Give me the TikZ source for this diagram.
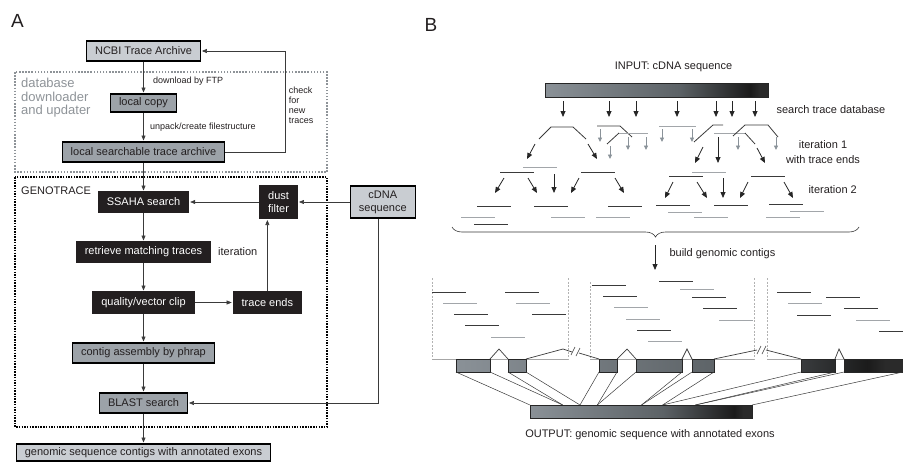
\documentclass[tikz,border=0pt]{standalone}
\usepackage{fontspec}
\setmainfont{Liberation Sans}
\usepackage{tikz}
\usetikzlibrary{positioning}
\usetikzlibrary{arrows.meta, decorations.pathreplacing}

\definecolor{boxlight}{HTML}{C9CDD2}
\definecolor{boxmid}{HTML}{9CA2A8}
\definecolor{boxdark}{HTML}{231F20}
\definecolor{ink}{HTML}{231F20}
\definecolor{framegray}{HTML}{8E9398}
\definecolor{trdark}{HTML}{3A3A3A}
\definecolor{trgray}{HTML}{A2A6AA}
\definecolor{argray}{HTML}{8A9299}
\definecolor{seqL}{HTML}{8A9197}
\definecolor{seqM}{HTML}{5C6266}
\definecolor{seqD}{HTML}{1B1B1B}
\definecolor{seqE}{HTML}{2A2A2A}
\pgfdeclarehorizontalshading{seqshade}{100bp}{color(0bp)=(seqL); color(25bp)=(seqL); color(55bp)=(seqM); color(71bp)=(seqD); color(73bp)=(seqE); color(100bp)=(seqE)}

\newcommand{\boxfont}{\fontsize{11}{13}\selectfont}
\newcommand{\tagfont}{\fontsize{9}{10}\selectfont}

\begin{document}
\begin{tikzpicture}[
				x=1pt, y=-1pt,
				font=\boxfont, text=ink,
				node distance=30pt and 40pt,
				box/.style={
					draw=black,
					line width=1.2pt,
					rectangle,
					align=center,
					minimum height=20pt,
					inner xsep=8.5pt,
					inner ysep=3pt,
					outer sep=0pt
				},
				lightbox/.style={box, fill=boxlight},
				midbox/.style={box, fill=boxmid},
				darkbox/.style={box, draw=boxdark, fill=boxdark, text=white},
				arrow/.style={-{Triangle[length=5pt, width=4pt]}, line width=0.6pt, draw=trdark, shorten >=1.5pt, shorten <=0.6pt},
				gframe/.style={draw=framegray, line width=1.5pt, dash pattern=on 1.5pt off 1.6pt},
				bframe/.style={draw=black, line width=2pt, dash pattern=on 1.5pt off 1.2pt},
				barr/.style={-{Triangle[length=6pt, width=5pt]}, line width=0.8pt, draw=black!85},
				garr/.style={-{Triangle[length=4.5pt, width=4pt]}, line width=0.9pt, draw=argray},
				dk/.style={draw=trdark, line width=0.8pt},
				lt/.style={draw=trgray, line width=1pt},
				vdash/.style={draw=black!30, line width=0.5pt, dash pattern=on 2pt off 1.5pt},
				base/.style={draw=black!35, line width=1pt},
				exon/.style={draw=black!85, line width=0.9pt},
				conn/.style={draw=trdark, line width=0.5pt}
				]
				\useasboundingbox (0,0) rectangle (903,461);
				
				% Panel A
				\node[font=\fontsize{19}{19}\selectfont, inner sep=0pt] (lblA) at (17.5,21) {A};
				
				\node[lightbox] (ncbi) at (143.5,51) {NCBI Trace Archive};
				\node[midbox, minimum height=18pt, below=33pt of ncbi] (copy) {local copy};
				\node[midbox, below=30pt of copy] (arch) {local searchable trace archive};
				\node[darkbox, below=of arch] (ssaha) {SSAHA search};
				\node[darkbox, below=of ssaha] (retr) {retrieve matching traces};
				\node[darkbox, minimum height=21pt, below=of retr] (qual) {quality/vector clip};
				\node[midbox, below=of qual] (phrap) {contig assembly by phrap};
				\node[midbox, below=of phrap] (blast) {BLAST search};
				\node[lightbox, minimum height=17pt, inner ysep=2pt, below=31pt of blast] (gseq) {genomic sequence contigs with annotated exons};
				
				\node[darkbox, minimum height=33pt, right=71pt of ssaha] (dust) {dust\\filter};
				\node[lightbox, minimum height=32pt, right=53pt of dust] (cdna) {cDNA\\sequence};
				\node[darkbox, minimum height=21pt, right=39pt of qual] (tends) {trace ends};
				\node[right=4pt of retr] (iter) {iteration};
				
				% Rahmen
				\draw[gframe] (15,72) rectangle (327,172);
				\draw[bframe] (15,177) rectangle (327,427);
				\node[anchor=north west, inner sep=0pt, align=left, text=framegray, font=\fontsize{13}{13.5}\selectfont] (dbtxt) at (21,78) {database\\downloader\\and updater};
				\node[anchor=west, inner sep=0pt] (gtxt) at (21,191) {GENOTRACE};
				
				% Flechas
				\draw[arrow] (ncbi) -- node[right=6pt, pos=0.62, font=\tagfont] {download by FTP} (copy);
				\draw[arrow] (copy) -- node[right=3pt, font=\tagfont] {unpack/create filestructure} (arch);
				\draw[arrow] (arch) -- (ssaha);
				\draw[arrow] (ssaha) -- (retr);
				\draw[arrow] (retr) -- (qual);
				\draw[arrow] (qual) -- (phrap);
				\draw[arrow] (phrap) -- (blast);
				\draw[arrow] (blast) -- (gseq);
				\draw[arrow] (cdna) -- (dust);
				\draw[arrow] (dust) -- (ssaha);
				\draw[arrow] (qual) -- (tends);
				\draw[arrow] (tends) -- (tends |- dust.south);
				\draw[arrow] ([xshift=-5pt]cdna.south) |- (blast);
				
				\coordinate[right=61pt of arch.east] (fb);
				\draw[arrow] (arch.east) -- (fb) |- (ncbi.east);
				\node[anchor=west, inner sep=0pt, align=left, font=\tagfont] (chk) at ([xshift=3pt, yshift=47pt]fb) {check\\for\\new\\traces};
				
				% Panel B
				\node[font=\fontsize{19}{19}\selectfont, inner sep=0pt] (lblB) at (431,24.5) {B};
				\node (inp) at (673.5,67) {INPUT: cDNA sequence};
				\shade[shading=seqshade] (545,83) rectangle (768,97);
				\draw[exon] (545,83) rectangle (768,97);
				
				\foreach \x in {563,609,636,677,716,732,755}
					\draw[barr] (\x,101) -- (\x,117);
				\node[anchor=west] (srch) at (773,110) {search trace database};
				
				% iteration 1
				\draw[dk] (539,139) -- (551,127) -- (573,127) -- (586,139);
				\draw[dk] (597,126) -- (620,126) -- (632,137);
				\draw[dk] (607,144) -- (619,133);
				\draw[lt] (619,133) -- (648,133);
				\draw[lt] (659,126) -- (696,126);
				\draw[dk] (694,142) -- (713,125) -- (723,125);
				\draw[lt] (714,133) -- (745,133);
				\draw[dk] (733,136) -- (745,125) -- (768,125) -- (778,137);
				\draw[dk] (745,133) -- (755,144);
				\foreach \x/\y in {600/129, 628/137, 646/137, 610/146, 662/129, 692/129, 738/137, 776/137}
					\draw[garr] (\x,\y) -- ++(0,13);
				\draw[barr] (535,144) -- (527,159);
				\draw[barr] (588,144) -- (597,159);
				\draw[barr] (703,147) -- (695,163);
				\draw[barr] (718,137) -- (718,163);
				\draw[barr] (757,148) -- (765,163);
				\node[align=center, font=\fontsize{11}{15}\selectfont] (it1) at (823,152.5) {iteration 1\\with trace ends};
				
				% iteration 2
				\foreach \x/\y in {500/172, 581/172, 669/176, 751/176}
					\draw[dk] (\x,\y) -- ++(34,0);
				\foreach \x/\y in {523/167, 692/172}
					\draw[lt] (\x,\y) -- ++(34,0);
				\draw[barr] (504,178) -- (495,193);
				\draw[barr] (528,178) -- (537,193);
				\draw[barr] (554,174) -- (554,193);
				\draw[barr] (579,178) -- (571,193);
				\draw[barr] (615,178) -- (624,193);
				\draw[barr] (673,182) -- (665,198);
				\draw[barr] (697,182) -- (707,198);
				\draw[barr] (723,178) -- (723,198);
				\draw[barr] (748,182) -- (740,198);
				\draw[barr] (784,182) -- (793,198);
				\node[anchor=west] (it2) at (805,190) {iteration 2};
				\foreach \x/\y in {477/206, 534/206, 608/206, 656/205, 714/205, 769/204, 474/224}
					\draw[dk] (\x,\y) -- ++(34,0);
				\foreach \x/\y in {461/217, 551/217, 596/217, 668/212, 694/217, 790/211, 766/217}
					\draw[lt] (\x,\y) -- ++(34,0);
				
				\draw[line width=0.6pt, trdark, decorate, decoration={brace, amplitude=10pt, mirror}] (452,227) -- (859,227);
				\draw[barr] (655,245) -- (655,270);
				\node[anchor=west] (build) at (666,254) {build genomic contigs};
				
				% contigs
				\foreach \x/\t in {432/278, 568/278, 590/282, 754/278, 767/278}
					\draw[vdash] (\x,\t) -- (\x,359);
				\draw[base] (432,359) -- (568,359);
				\draw[base] (590,359) -- (754,359);
				\draw[base] (767,359) -- (903,359);
				\foreach \x/\y in {432/292, 454/314, 465/325, 505/292, 532/314, 592/285, 603/296, 637/330, 659/281, 692/297, 703/308, 777/292, 797/315, 826/297, 844/308, 879/331}
					\draw[dk] (\x,\y) -- ++(34,0);
				\foreach \x/\y in {443/303, 491/337, 516/303, 614/307, 626/319, 648/341, 680/289, 719/320, 788/303, 856/320}
					\draw[lt] (\x,\y) -- ++(34,0);
				
				% exons and introns
				\begin{scope}
					\clip (456,359) rectangle (490,372) (508,359) rectangle (526,372) (599,359) rectangle (617,372) (636,359) rectangle (682,372) (692,359) rectangle (714,372) (801,359) rectangle (835,372) (844,359) rectangle (903,372);
					\shade[shading=seqshade] (456,359) rectangle (903,372);
				\end{scope}
				\foreach \a/\b in {456/490, 508/526, 599/617, 636/682, 692/714, 801/835, 844/903}
					\draw[exon] (\a,359) rectangle (\b,372);
				\foreach \a/\p/\b in {490/499/508, 617/627/636, 682/687/692, 835/839/844}
					\draw[conn, line width=0.7pt] (\a,359) -- (\p,349) -- (\b,359);
				\draw[conn, line width=0.7pt] (526,359) -- (563,349) -- (572,352);
				\draw[conn, line width=0.7pt] (579,353) -- (599,359);
				\draw[conn, line width=0.7pt] (714,359) -- (757,350);
				\draw[conn, line width=0.7pt] (766,350) -- (801,359);
				\draw[conn, line width=0.6pt] (571,355) -- (575,347) (576,356) -- (580,348);
				\draw[conn, line width=0.6pt] (757,354) -- (761,346) (762,354) -- (766,346);
				
				% output
				\foreach \e/\o in {456/530, 490/562.7, 508/562.7, 526/580, 599/580, 617/597.3, 636/597.3, 682/641.5, 692/641.5, 714/662.6, 801/662.6, 835/695.3, 844/695.3, 903/752}
					\draw[conn] (\e,372) -- (\o,405);
				\shade[shading=seqshade] (530,405) rectangle (752,418);
				\draw[exon] (530,405) rectangle (752,418);
				\node (outp) at (650,435) {OUTPUT: genomic sequence with annotated exons};
				
			\end{tikzpicture}
\end{document}
